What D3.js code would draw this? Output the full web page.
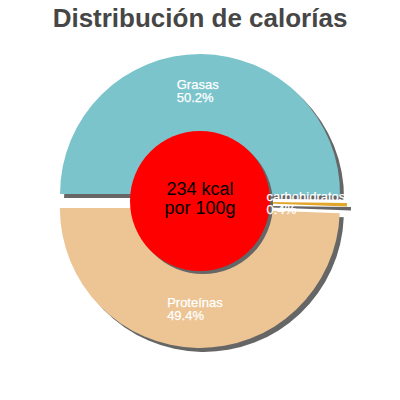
<!DOCTYPE html>
<html lang="es">
<head>
    <meta charset="utf-8">
    <title>Distribución de calorías</title>
    <script src="https://d3js.org/d3.v7.min.js" charset="utf-8"></script>
    <style>
        body { margin: 0; background: #fff; }
        text { font-family: "Liberation Sans", Arial, sans-serif; }
    </style>
</head>
<body>
<script>

    var categories = ["Grasas", "carbohidratos", "Proteínas"]
    var percents = [50.2, 0.4, 49.4]
    var colors = ["#7bc4cc", "#e2a62a", "#edc594"]
    var kcal = "234 kcal"
    var portion = "por 100g"

    var w = 400, h = 400
    var cx = 200, cy = 201
    var radius = 140, innerR = 70
    var explode = 7

    var svg = d3.select("body").append("svg").attr("width", w).attr("height", h)

    svg.append("text").attr("x", 200).attr("y", 27).attr("text-anchor", "middle")
        .attr("font-size", "26px").attr("font-weight", "bold").attr("fill", "#464646")
        .text("Distribución de calorías")

    var data = categories.map(function (c, i) { return {name: c, value: percents[i], color: colors[i]} })

    var pie = d3.pie().sort(null).value(function (d) { return d.value })
        .startAngle(-Math.PI / 2).endAngle(Math.PI * 1.5)
    var arcs = pie(data)

    var arc = d3.arc().innerRadius(0).outerRadius(radius)

    function offset(d) {
        var a = (d.startAngle + d.endAngle) / 2
        return [Math.sin(a) * explode, -Math.cos(a) * explode]
    }

    var g = svg.append("g").attr("transform", "translate(" + cx + "," + cy + ")")

    // shadows first, then the slices
    g.selectAll("path.shadow").data(arcs).enter().append("path").attr("class", "shadow")
        .attr("d", arc).attr("fill", "#666")
        .attr("transform", function (d) { var o = offset(d); return "translate(" + (o[0] + 4) + "," + (o[1] + 4) + ")" })

    g.selectAll("path.slice").data(arcs).enter().append("path").attr("class", "slice")
        .attr("d", arc).attr("fill", function (d) { return d.data.color })
        .attr("transform", function (d) { var o = offset(d); return "translate(" + o[0] + "," + o[1] + ")" })

    // centre circle
    g.append("circle").attr("cx", 3).attr("cy", 3).attr("r", innerR).attr("fill", "#666")
    g.append("circle").attr("r", innerR).attr("fill", "#ff0000")

    g.append("text").attr("y", -6).attr("text-anchor", "middle").attr("font-size", "18px").attr("fill", "#000").text(kcal)
    g.append("text").attr("y", 13).attr("text-anchor", "middle").attr("font-size", "18px").attr("fill", "#000").text(portion)

    // labels
    svg.append("clipPath").attr("id", "clip").append("rect").attr("x", -cx).attr("y", -cy).attr("width", 344).attr("height", h)

    var labelArc = d3.arc().innerRadius(102).outerRadius(102)
    var labels = g.append("g").attr("clip-path", "url(#clip)")
        .attr("font-size", "13px").attr("fill", "#fff").attr("stroke", "#fff").attr("stroke-width", 0.25)

    arcs.forEach(function (d) {
        var c = labelArc.centroid(d), o = offset(d)
        var t = labels.append("text").attr("y", c[1] + o[1] - 3).text(d.data.name)
        var tw = t.node().getComputedTextLength()
        var x0 = c[0] + o[0] - tw / 2 - 3
        t.attr("x", x0)
        labels.append("text").attr("x", x0).attr("y", c[1] + o[1] + 10).text(d.data.value.toFixed(1) + "%")
    })

</script>
</body>
</html>
